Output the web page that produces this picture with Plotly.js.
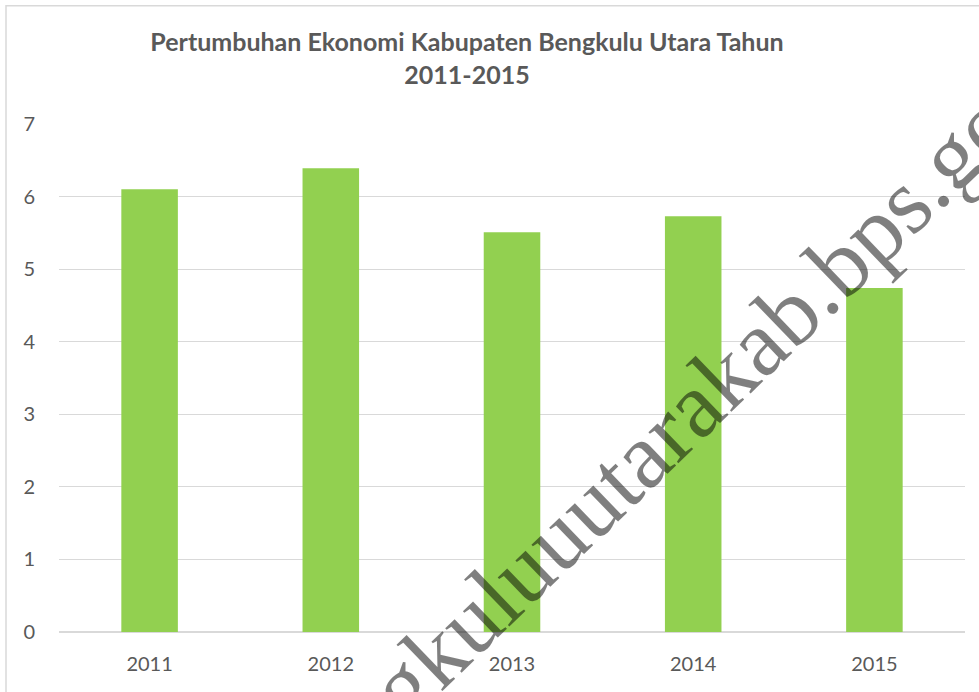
<!DOCTYPE html>
<html>
<head>
<meta charset="utf-8">
<script src="https://cdn.plot.ly/plotly-3.0.1.min.js"></script>
<style>html,body{margin:0;padding:0;background:#fff;}#chart{width:979px;height:692px;}</style>
</head>
<body>
<div id="chart"></div>
<script>
const years = ['2011', '2012', '2013', '2014', '2015'];
const growth = [6.10, 6.39, 5.51, 5.73, 4.74];
const yTicks = [0, 1, 2, 3, 4, 5, 6, 7];
const titleText = 'Pertumbuhan Ekonomi Kabupaten Bengkulu Utara Tahun<br>2011-2015';
const watermark = 'bengkuluuutarakab.bps.go.id';

const W = 979, H = 692;
const L = 59, R = 965, T = 123.5, B = 632.5;
const px = x => (x - L) / (R - L);
const py = y => (B - y) / (B - T);

const data = [{
  type: 'bar',
  x: years,
  y: growth,
  marker: {color: '#92D050'},
  width: 0.312,
  hoverinfo: 'none'
}];

const layout = {
  width: W, height: H,
  margin: {l: L, r: W - R, t: T, b: H - B, pad: 0},
  paper_bgcolor: '#ffffff',
  plot_bgcolor: '#ffffff',
  showlegend: false,
  font: {family: 'Lato, sans-serif', color: '#595959'},
  title: {
    text: titleText,
    font: {family: 'Lato, sans-serif', size: 25, color: '#595959', weight: 'bold'},
    x: 467 / W, xref: 'container', xanchor: 'center',
    y: 1 - 51 / H, yref: 'container', yanchor: 'top'
  },
  xaxis: {
    type: 'category',
    showgrid: false, zeroline: false, showline: false,
    ticks: 'outside', ticklen: 14, tickcolor: 'rgba(0,0,0,0)',
    tickfont: {family: 'Lato, sans-serif', size: 20, color: '#595959'},
    fixedrange: true
  },
  yaxis: {
    range: [0, 7],
    tickvals: yTicks,
    ticktext: yTicks.map(String),
    showgrid: true, gridcolor: '#d9d9d9', gridwidth: 1.2,
    zeroline: true, zerolinecolor: '#d9d9d9', zerolinewidth: 1.2,
    showline: false,
    ticks: 'outside', ticklen: 19, tickcolor: 'rgba(0,0,0,0)',
    tickfont: {family: 'Lato, sans-serif', size: 20, color: '#595959'},
    fixedrange: true
  },
  shapes: [{
    type: 'rect', xref: 'paper', yref: 'paper',
    x0: px(6), x1: px(1200), y0: py(900), y1: py(5),
    line: {color: '#d9d9d9', width: 1.5}, fillcolor: 'rgba(0,0,0,0)', layer: 'below'
  }],
  annotations: [{
    text: watermark,
    xref: 'paper', yref: 'paper',
    x: px(678), y: py(419),
    xanchor: 'center', yanchor: 'middle',
    showarrow: false,
    textangle: -44,
    font: {family: '"Liberation Serif", "Times New Roman", serif', size: 94, color: 'rgba(0,0,0,0.5)'}
  }]
};

Plotly.newPlot('chart', data, layout, {displayModeBar: false, staticPlot: true});
</script>
</body>
</html>
